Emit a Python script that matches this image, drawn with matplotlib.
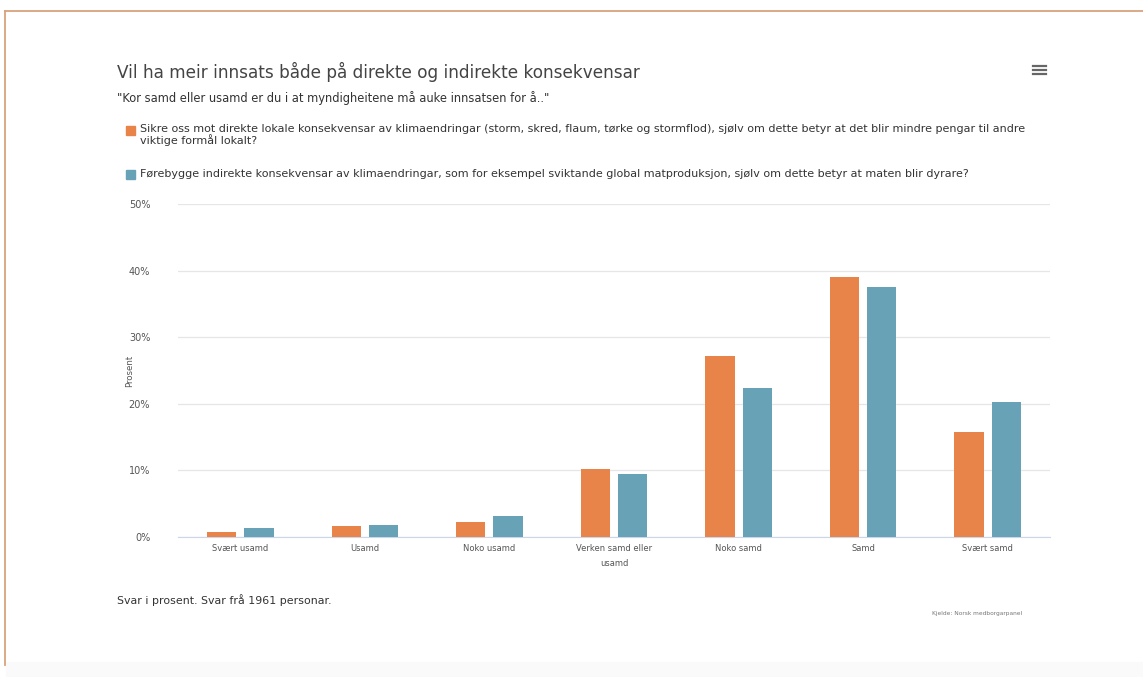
import matplotlib
matplotlib.use("Agg")
import matplotlib.pyplot as plt
from matplotlib.lines import Line2D
from matplotlib.patches import Rectangle
import numpy as np

categories = ["Svært usamd", "Usamd", "Noko usamd", "Verken samd eller\nusamd",
              "Noko samd", "Samd", "Svært samd"]
direkte = [0.8, 1.6, 2.3, 10.2, 27.2, 39.0, 15.8]
indirekte = [1.4, 1.8, 3.1, 9.5, 22.4, 37.6, 20.3]
yticks = [0, 10, 20, 30, 40, 50]
ytick_labels = ["0%", "10%", "20%", "30%", "40%", "50%"]

series_names = [
    "Sikre oss mot direkte lokale konsekvensar av klimaendringar (storm, skred, flaum, tørke og stormflod), sjølv om dette betyr at det blir mindre pengar til andre\nviktige formål lokalt?",
    "Førebygge indirekte konsekvensar av klimaendringar, som for eksempel sviktande global matproduksjon, sjølv om dette betyr at maten blir dyrare?",
]
title = "Vil ha meir innsats både på direkte og indirekte konsekvensar"
subtitle = "\"Kor samd eller usamd er du i at myndigheitene må auke innsatsen for å..\""
footer = "Svar i prosent. Svar frå 1961 personar."
credit = "Kjelde: Norsk medborgarpanel"

orange = "#E8834A"
blue = "#68A2B7"

W, H = 1143, 677
fig = plt.figure(figsize=(W / 100, H / 100), dpi=100)
fig.patch.set_facecolor("white")

def fx(px):
    return px / W

def fy(py):
    return 1 - py / H

# border
fig.add_artist(Line2D([fx(5), fx(1143)], [fy(11), fy(11)], color="#D9A27E", lw=1.3))
fig.add_artist(Line2D([fx(5), fx(5)], [fy(11), fy(665)], color="#D9A27E", lw=1.3))
fig.add_artist(Rectangle((fx(6), 0), 1, fy(662), color="#FAFAFA", zorder=-1, transform=fig.transFigure))

ax = fig.add_axes([fx(178), fy(537), fx(1050) - fx(178), fy(204) - fy(537)])
x = np.arange(len(categories))
bw = 0.235
ax.bar(x - 0.15, direkte, bw, color=orange, zorder=3)
ax.bar(x + 0.15, indirekte, bw, color=blue, zorder=3)
ax.set_xlim(-0.5, len(categories) - 0.5)
ax.set_ylim(0, 50)
ax.set_yticks(yticks)
ax.set_yticklabels(ytick_labels)
ax.set_xticks(x)
ax.set_xticklabels(categories, linespacing=1.8)
ax.grid(axis="y", color="#E6E6E6", lw=0.9, zorder=0)
for s in ["top", "right", "left"]:
    ax.spines[s].set_visible(False)
ax.spines["bottom"].set_color("#CCD6EB")
ax.tick_params(axis="x", length=0, labelsize=6.0, colors="#555555", pad=5)
ax.tick_params(axis="y", length=0, labelsize=7.0, colors="#555555", pad=20)
ax.set_ylabel("Prosent", fontsize=6.2, color="#555555")
ax.yaxis.set_label_coords(-0.05, 0.5)

fig.text(fx(117), fy(72), title, fontsize=12.2, color="#444444", va="center", ha="left")
fig.text(fx(117), fy(98), subtitle, fontsize=8.3, color="#333333", va="center", ha="left")

# legend
fig.add_artist(Rectangle((fx(126), fy(135)), fx(9), fy(126) - fy(135), color=orange, transform=fig.transFigure))
fig.text(fx(140), fy(135), series_names[0], fontsize=8.0, color="#333333", va="center", ha="left", linespacing=1.0)
fig.add_artist(Rectangle((fx(126), fy(179)), fx(9), fy(170) - fy(179), color=blue, transform=fig.transFigure))
fig.text(fx(140), fy(174.5), series_names[1], fontsize=8.0, color="#333333", va="center", ha="left")

fig.text(fx(117), fy(600), footer, fontsize=7.9, color="#333333", va="center", ha="left")
fig.text(fx(1022), fy(614), credit, fontsize=4.2, color="#777777", va="center", ha="right")

# menu icon
for yy in [66, 70, 74]:
    fig.add_artist(Line2D([fx(1033), fx(1046)], [fy(yy), fy(yy)], color="#666666", lw=1.6))

fig.savefig("out.png", dpi=100)
